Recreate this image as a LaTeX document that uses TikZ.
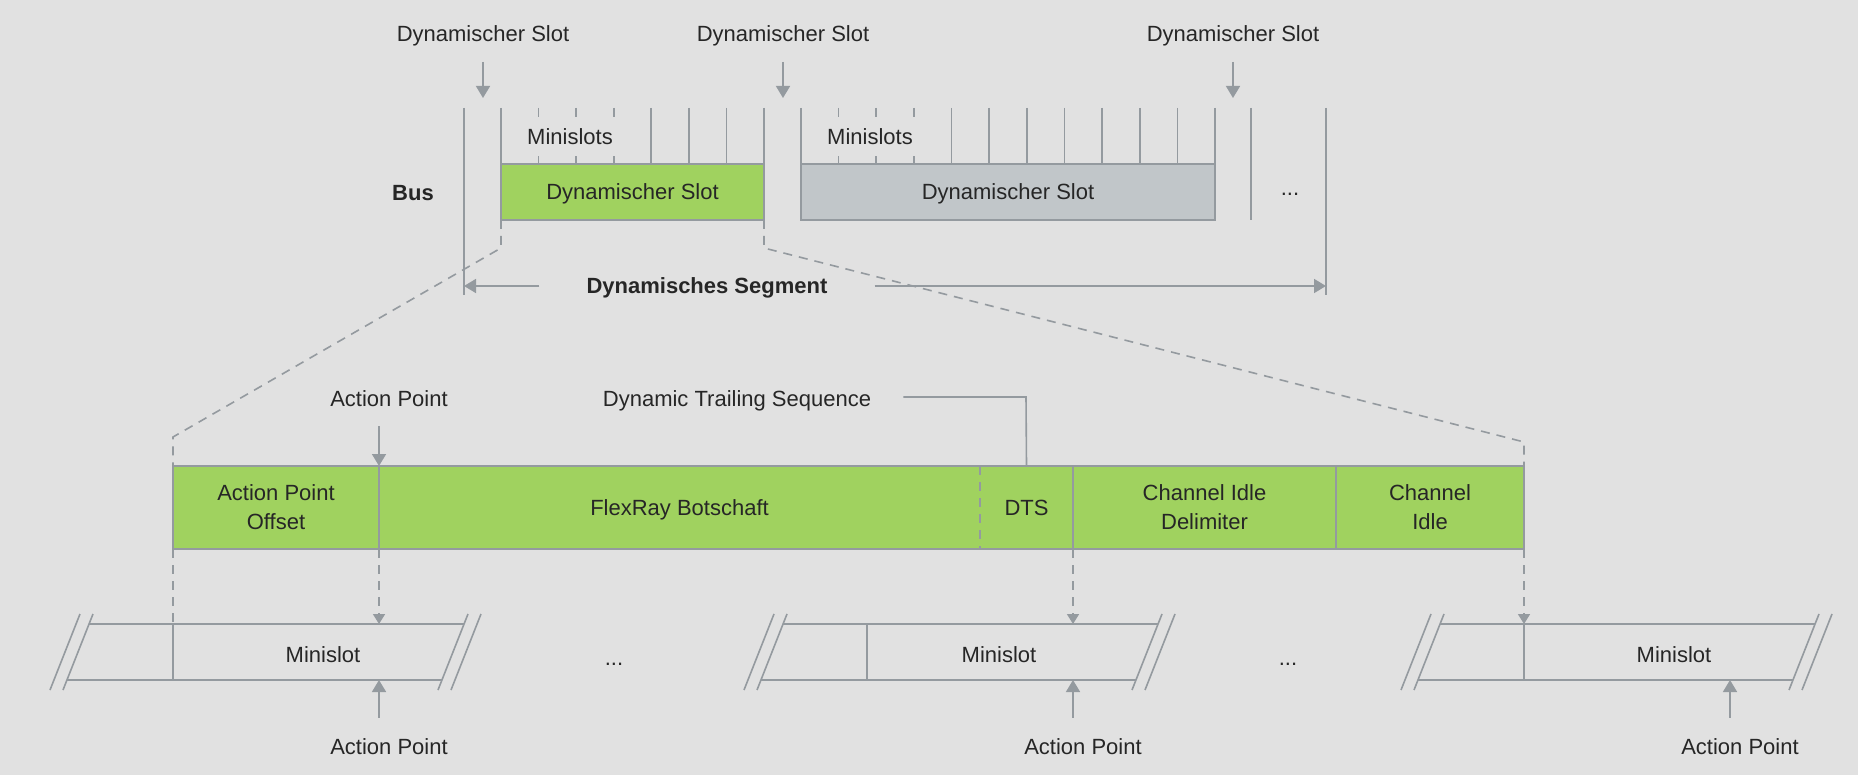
\documentclass[tikz,border=0pt]{standalone}
\usepackage{fontspec}
\setmainfont{Liberation Sans}
\usepackage{xcolor}
\usetikzlibrary{positioning, arrows.meta}

\definecolor{bg}{RGB}{225,225,225}
\definecolor{rule}{RGB}{148,154,159}
\definecolor{slotgreen}{RGB}{160,210,95}
\definecolor{slotgray}{RGB}{193,198,201}
\definecolor{ink}{RGB}{38,38,38}

\begin{document}
\begin{tikzpicture}[x=1pt, y=-1pt, font=\fontsize{22}{29}\selectfont, text=ink,
    line/.style={draw=rule, line width=1.6pt},
    dashline/.style={line, dash pattern=on 9pt off 7pt},
    ptr/.style={line, -{Triangle[width=14pt, length=12pt]}},
    dptr/.style={dashline, -{Triangle[width=12pt, length=10pt]}},
    slot/.style={draw=rule, line width=2pt, minimum height=56pt, inner sep=0pt, outer sep=0pt, text depth=0pt},
    part/.style={fill=slotgreen, minimum height=83pt, inner sep=0pt, outer sep=0pt, align=center, text depth=0pt},
    lbl/.style={inner sep=2pt}]
    \fill[bg] (0,0) rectangle (1858,775);
    \useasboundingbox (0,0) rectangle (1858,775);

    \draw[line] (464,108) -- (464,295);
    \draw[line] (1326,108) -- (1326,295);
    \draw[line] (1251,108) -- (1251,220);
    \foreach \i in {0,...,7} \draw[line] (501+37.57*\i,108) -- (501+37.57*\i,164);
    \foreach \i in {0,...,11} \draw[line] (801+37.64*\i,108) -- (801+37.64*\i,164);

    \node[slot, fill=slotgreen, minimum width=263pt] (gslot) at (632.5,192) {Dynamischer Slot};
    \node[slot, fill=slotgray, minimum width=414pt] (rslot) at (1008,192) {Dynamischer Slot};
    \node[lbl, fill=bg, minimum height=39pt, inner xsep=5pt] (ms1) at (570,137) {Minislots};
    \node[lbl, fill=bg, minimum height=39pt, inner xsep=5pt] (ms2) at (870,137) {Minislots};
    \node[lbl, font=\fontsize{22}{29}\selectfont\bfseries] (bus) at (413,193) {Bus};
    \node[lbl, anchor=base] (more) at (1290,196) {...};

    \foreach \n/\x in {1/483, 2/783, 3/1233} {
        \coordinate (p\n) at (\x,98);
        \node[lbl, above=50pt of p\n] (dl\n) {Dynamischer Slot};
        \draw[ptr, shorten <=14pt] (dl\n) -- (p\n);
    }

    \coordinate (sl) at (464,286);
    \coordinate (sr) at (1326,286);
    \node[lbl, font=\fontsize{22}{29}\selectfont\bfseries] (seg) at (707,288) {Dynamisches Segment};
    \draw[ptr, shorten <=45pt] (seg.west |- sl) -- (sl);
    \draw[ptr, shorten <=45pt] (seg.east |- sr) -- (sr);

    \node[part, minimum width=206pt] (apo) at (276,507.5) {Action Point\\Offset};
    \node[part, minimum width=601pt, right=0pt of apo] (msg) {FlexRay Botschaft};
    \node[part, minimum width=93pt, right=0pt of msg] (dts) {DTS};
    \node[part, minimum width=263pt, right=0pt of dts] (cid) {Channel Idle\\Delimiter};
    \node[part, minimum width=188pt, right=0pt of cid] (ci) {Channel\\Idle};
    \draw[line, line width=2pt] (apo.north west) rectangle (ci.south east);
    \draw[line] (apo.north east) -- (apo.south east);
    \draw[dashline] (dts.north west) -- (dts.south west);
    \draw[line] (cid.north west) -- (cid.south west);
    \draw[line] (ci.north west) -- (ci.south west);

    \node[lbl] (aptop) at (389,399) {Action Point};
    \draw[ptr, shorten <=17pt] (aptop.south -| apo.north east) -- (apo.north east);
    \coordinate (dtsk) at (1026,397);
    \node[lbl] (dtsl) at (737,401) {Dynamic Trailing Sequence};
    \draw[line, shorten <=30pt] (dtsl.east |- dtsk) -- (dtsk) -- (dts.north);

    \coordinate (zl) at (501,248);
    \coordinate (zr) at (764,248);
    \coordinate (kl) at (173,437);
    \coordinate (kr) at (1524,442);
    \draw[dashline] (gslot.south west) -- (zl) -- (kl) -- (apo.north west);
    \draw[dashline] (gslot.south east) -- (zr) -- (kr) -- (ci.north east);

    \foreach \n/\X/\t in {1/89/234, 2/783/216, 3/1440/234} {
        \draw[line] (\X,624) -- (\X+375,624);
        \draw[line] (\X-22,680) -- (\X+353,680);
        \draw[line] (\X+4,614) -- (\X-26,690) (\X-9,614) -- (\X-39,690);
        \draw[line] (\X+379,614) -- (\X+349,690) (\X+392,614) -- (\X+362,690);
        \coordinate (d\n) at (\X+84,624);
        \coordinate (a\n) at (\X+290,624);
        \coordinate (b\n) at (\X+290,680);
        \draw[line] (d\n) -- (\X+84,680);
        \node[lbl] (mslot\n) at (\X+\t,655) {Minislot};
        \node[lbl] (apb\n) at (\X+300,747) {Action Point};
        \draw[ptr, shorten <=19pt] (apb\n.north -| b\n) -- (b\n);
    }
    \node[lbl, anchor=base] (gap1) at (614,665) {...};
    \node[lbl, anchor=base] (gap2) at (1288,665) {...};

    \draw[dashline] (apo.south west) -- (d1);
    \draw[dptr] (apo.south east) -- (a1);
    \draw[dptr] (cid.south west) -- (a2);
    \draw[dptr] (ci.south east) -- (d3);
\end{tikzpicture}
\end{document}
